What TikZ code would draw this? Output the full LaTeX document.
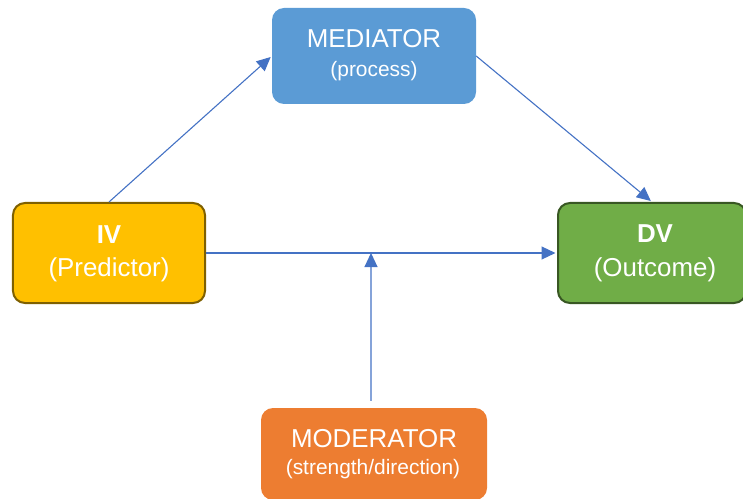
\documentclass[tikz,border=0pt]{standalone}
\usepackage{fontspec}
\setmainfont{Liberation Sans}
\usetikzlibrary{arrows.meta}
\definecolor{medblue}{HTML}{5B9BD5}
\definecolor{ivgold}{HTML}{FFC000}
\definecolor{ivedge}{HTML}{7F6000}
\definecolor{dvgreen}{HTML}{70AD47}
\definecolor{dvedge}{HTML}{385723}
\definecolor{modorange}{HTML}{ED7D31}
\definecolor{arrblue}{HTML}{4472C4}
\tikzset{
  box/.style={rectangle, rounded corners=12bp, inner sep=0pt},
  big/.style={text=white, anchor=base, inner sep=0pt, font=\fontsize{26}{30}\selectfont},
  bigbold/.style={big, font=\fontsize{26}{30}\selectfont\bfseries},
  small/.style={text=white, anchor=base, inner sep=0pt, font=\fontsize{21}{25}\selectfont},
  arr/.style={draw=arrblue, line width=1.1bp, shorten >=1.5bp, -{Triangle[length=14bp,width=13bp]}}
}
\begin{document}
\begin{tikzpicture}[x=1bp, y=-1bp]
\useasboundingbox (0,0) rectangle (743,499);

% boxes
\node[box, fill=medblue, minimum width=204bp, minimum height=96bp] (med) at (374,56) {};
\node[box, fill=ivgold, draw=ivedge, line width=2bp, minimum width=192bp, minimum height=100bp] (iv) at (109,253) {};
\node[box, fill=dvgreen, draw=dvedge, line width=2bp, minimum width=188bp, minimum height=100bp] (dv) at (652,253) {};
\node[box, fill=modorange, minimum width=226bp, minimum height=92bp] (mod) at (374,454) {};

% labels
\node[big] (medA) at (374,48) {MEDIATOR};
\node[small] (medB) at (374,77) {(process)};
\node[bigbold] (ivA) at (109,244) {IV};
\node[big] (ivB) at (109,277) {(Predictor)};
\node[bigbold] (dvA) at (655,243) {DV};
\node[big] (dvB) at (655,277) {(Outcome)};
\node[big] (modA) at (374,447) {MODERATOR};
\node[small] (modB) at (373,474) {(strength/direction)};

% connectors
\coordinate (hit) at (371,253);
\draw[arr] (iv.north) -- (med.west);
\draw[arr] (med.east) -- (dv.north);
\draw[arr] (iv.east) -- (dv.west);
\draw[arr, shorten >=0pt] ([xshift=-3bp,yshift=7bp]mod.north) -- (hit);
\end{tikzpicture}
\end{document}
